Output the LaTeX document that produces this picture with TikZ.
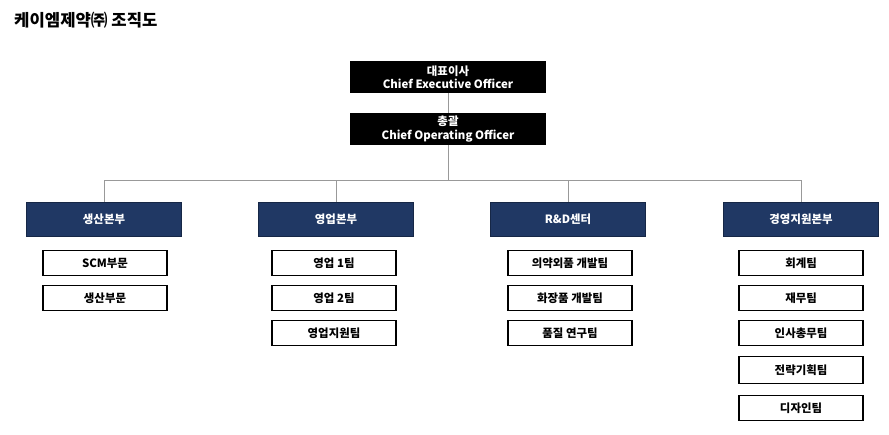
\documentclass[tikz,border=0pt]{standalone}
\usepackage{fontspec}
\setmainfont{Noto Sans CJK KR}
\usetikzlibrary{positioning}
\definecolor{navy}{HTML}{203864}
\tikzset{
	topbox/.style={fill=black,text=white,font=\fontsize{6.5}{7.5}\selectfont\bfseries,minimum width=3.92cm,minimum height=0.64cm,inner sep=0pt,align=center},
	deptbox/.style={fill=navy,draw=navy!70!black,text=white,font=\fontsize{6.5}{7.5}\selectfont\bfseries,minimum width=3.1cm,minimum height=0.68cm,inner sep=0pt},
	teambox/.style={draw,line width=0.6pt,fill=white,font=\fontsize{6.5}{7.5}\selectfont\bfseries,minimum width=2.48cm,minimum height=0.5cm,inner sep=0pt},
	link/.style={draw=gray!80,line width=0.5pt}
}
\begin{document}
\begin{tikzpicture}[x=0.02cm,y=-0.02cm]
	\useasboundingbox (0,0) rectangle (889,435);
	\node[anchor=west,font=\fontsize{9.5}{11}\selectfont\bfseries] (title) at (8,20) {케이엠제약㈜ 조직도};
	
	\node[topbox] (ceo) at (448,77) {대표이사\\Chief Executive Officer};
	\node[topbox] (coo) at (448,129) {총괄\\Chief Operating Officer};
	\draw[link] (ceo) -- (coo);
	
	\node[deptbox] (prod) at (104,219) {생산본부};
	\node[deptbox] (sales) at (336,219) {영업본부};
	\node[deptbox] (rnd) at (568,219) {R\&D센터};
	\node[deptbox] (mgmt) at (801,219) {경영지원본부};
	\coordinate (hub) at (448,180);
	\draw[link] (coo) -- (hub);
	\foreach \d in {prod,sales,rnd,mgmt}
		\draw[link] (hub) -| (\d);
	
	% teams
	\node[teambox] (p1) at (105,263) {SCM부문};
	\node[teambox] (p2) at (105,298) {생산부문};
	\node[teambox] (s1) at (334,263) {영업 1팀};
	\node[teambox] (s2) at (334,298) {영업 2팀};
	\node[teambox] (s3) at (334,333) {영업지원팀};
	\node[teambox] (r1) at (570,263) {의약외품 개발팀};
	\node[teambox] (r2) at (570,298) {화장품 개발팀};
	\node[teambox] (r3) at (570,333) {품질 연구팀};
	\node[teambox] (m1) at (801,263) {회계팀};
	\node[teambox] (m2) at (801,298) {재무팀};
	\node[teambox] (m3) at (801,333) {인사총무팀};
	\node[teambox,minimum height=0.54cm] (m4) at (801,370) {전략기획팀};
	\node[teambox] (m5) at (801,408) {디자인팀};
\end{tikzpicture}
\end{document}
